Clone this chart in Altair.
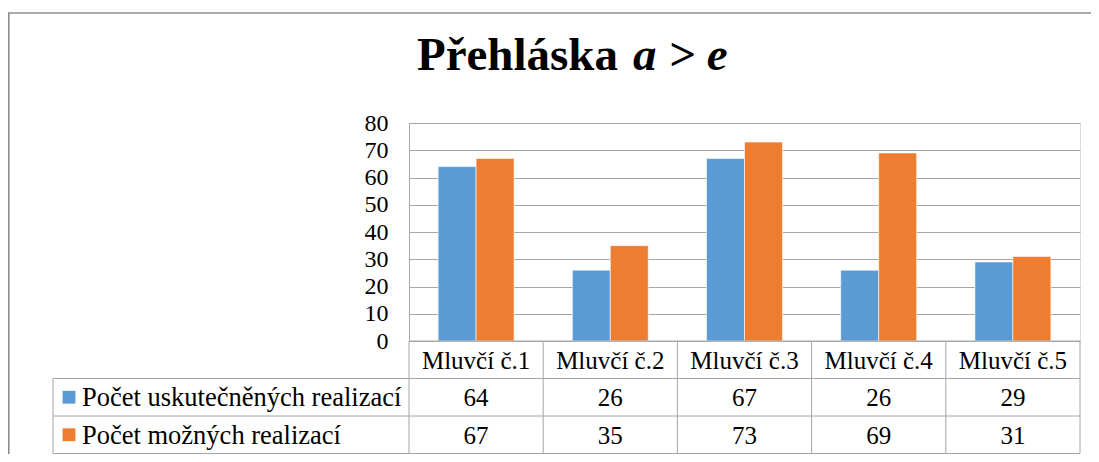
import altair as alt
import pandas as pd

# ---- data ----
speakers = ["Mluvčí č.1", "Mluvčí č.2", "Mluvčí č.3", "Mluvčí č.4", "Mluvčí č.5"]
series_names = ["Počet uskutečněných realizací", "Počet možných realizací"]
realized = [64, 26, 67, 26, 29]
possible = [67, 35, 73, 69, 31]
colors = ["#5b9bd5", "#ed7d31"]
y_ticks = [0, 10, 20, 30, 40, 50, 60, 70, 80]

rows = []
for i, s in enumerate(speakers):
    rows.append({"speaker": s, "series": series_names[0], "value": realized[i]})
    rows.append({"speaker": s, "series": series_names[1], "value": possible[i]})
df = pd.DataFrame(rows)

FONT = "Liberation Serif"
W, H = 671, 218
STEP = W / len(speakers)
ROW_TOPS = [H, 255.5, 293, 330.5]   # header, row1, row2, bottom (pixel layout)
LABEL_LEFT = -356
GRID = "#a6a6a6"

xs = alt.Scale(domain=speakers, paddingInner=0.434, paddingOuter=0.217)
cs = alt.Scale(domain=series_names, range=colors)

bars = alt.Chart(df).mark_bar(stroke="white", strokeWidth=0.6).encode(
    x=alt.X("speaker:N", scale=xs, axis=None, sort=speakers),
    xOffset=alt.XOffset("series:N", sort=series_names, scale=alt.Scale(paddingInner=0)),
    y=alt.Y("value:Q", scale=alt.Scale(domain=[0, 80]),
            axis=alt.Axis(values=y_ticks, grid=True, gridColor=GRID, gridWidth=1,
                          domain=True, domainColor=GRID, ticks=False, title=None,
                          labelFont=FONT, labelFontSize=24, labelColor="black",
                          labelPadding=21)),
    color=alt.Color("series:N", scale=cs, legend=None),
)

one = pd.DataFrame({"k": [0]})

def rule(x, x2, y, y2, color=GRID, w=1):
    return alt.Chart(one).mark_rule(color=color, strokeWidth=w).encode(
        x=alt.value(x), x2=alt.value(x2), y=alt.value(y), y2=alt.value(y2))

layers = [bars]

# table grid
layers.append(rule(0, W, ROW_TOPS[0], ROW_TOPS[0]))
for yy in ROW_TOPS[1:]:
    layers.append(rule(LABEL_LEFT, W, yy, yy))
layers.append(rule(LABEL_LEFT, LABEL_LEFT, ROW_TOPS[1], ROW_TOPS[3]))
for k in range(len(speakers) + 1):
    layers.append(rule(k * STEP, k * STEP, ROW_TOPS[0], ROW_TOPS[3]))

# header row
hdr_df = pd.DataFrame({"speaker": speakers})
layers.append(alt.Chart(hdr_df).mark_text(font=FONT, fontSize=25, color="black",
                                          baseline="middle").encode(
    x=alt.X("speaker:N", scale=xs, sort=speakers),
    y=alt.value((ROW_TOPS[0] + ROW_TOPS[1]) / 2 + 1),
    text="speaker:N"))

# value rows + row labels
for i, sname in enumerate(series_names):
    yc = (ROW_TOPS[i + 1] + ROW_TOPS[i + 2]) / 2 + 1
    sub = df[df["series"] == sname]
    layers.append(alt.Chart(sub).mark_text(font=FONT, fontSize=25, color="black",
                                           baseline="middle").encode(
        x=alt.X("speaker:N", scale=xs, sort=speakers),
        y=alt.value(yc),
        text="value:Q"))
    lab = pd.DataFrame({"series": [sname]})
    layers.append(alt.Chart(lab).mark_square(size=165, opacity=1).encode(
        x=alt.value(-340), y=alt.value(yc - 1),
        color=alt.Color("series:N", scale=cs, legend=None)))
    layers.append(alt.Chart(lab).mark_text(font=FONT, fontSize=26.5, color="black",
                                           align="left", baseline="middle").encode(
        x=alt.value(-327), y=alt.value(yc), text="series:N"))

# title (two styles)
layers.append(alt.Chart(one).mark_text(font=FONT, fontSize=47, fontWeight="bold",
                                       align="right", baseline="alphabetic",
                                       color="black").encode(
    x=alt.value(209), y=alt.value(-53), text=alt.value("Přehláska")))
layers.append(alt.Chart(one).mark_text(font=FONT, fontSize=47, fontWeight="bold",
                                       fontStyle="italic", align="left",
                                       baseline="alphabetic", color="black").encode(
    x=alt.value(224), y=alt.value(-53), text=alt.value("a > e")))

# outer frame (left and top edges visible)
layers.append(rule(-400.2, -400.2, -110, 400, color="#8c8c8c", w=1.6))
layers.append(rule(-401, W + 11, -110, -110, color="#8c8c8c", w=1.6))

chart = alt.layer(*layers).properties(
    width=W, height=H,
    autosize=alt.AutoSizeParams(type="none"),
    padding={"left": 401, "top": 115, "right": 11, "bottom": 113},
).configure_view(stroke=None).configure(background="white")

chart.save("out.html", embed_options={"renderer": "svg", "actions": False})
